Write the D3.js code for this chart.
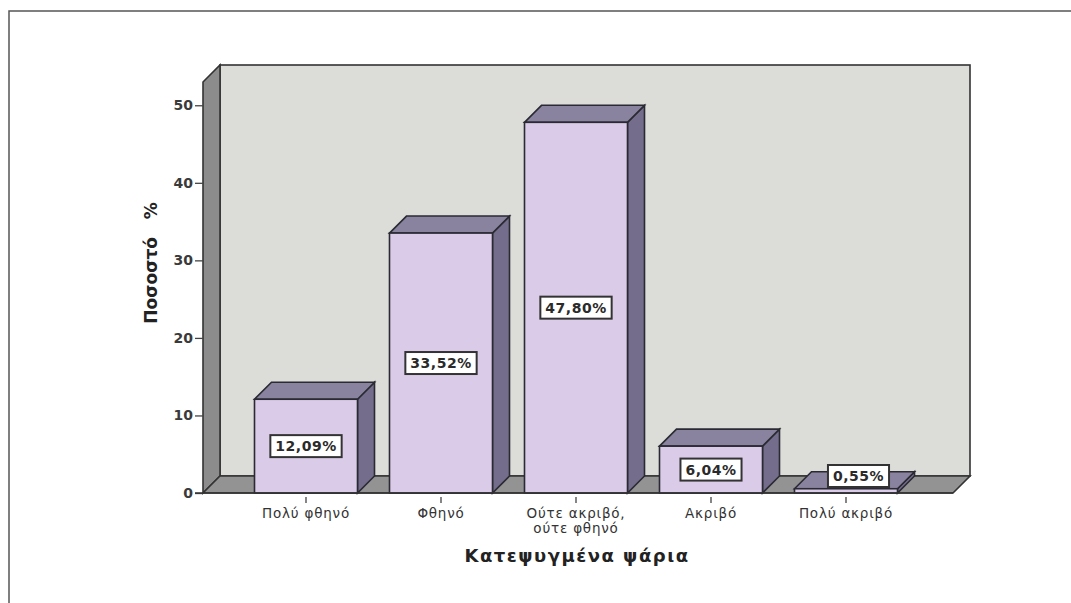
<!DOCTYPE html>
<html><head><meta charset="utf-8">
<script src="https://cdn.jsdelivr.net/npm/d3@7/dist/d3.min.js"></script>
<style>body{margin:0;background:#fff}svg{display:block}</style>
</head><body><svg id="c" width="1071" height="603"></svg>
<script>
const categories = ["Πολύ φθηνό", "Φθηνό", "Ούτε ακριβό, ούτε φθηνό", "Ακριβό", "Πολύ ακριβό"];
const categoryLines = [["Πολύ φθηνό"], ["Φθηνό"], ["Ούτε ακριβό,", "ούτε φθηνό"], ["Ακριβό"], ["Πολύ ακριβό"]];
const values = [12.09, 33.52, 47.80, 6.04, 0.55];
const valueLabels = ["12,09%", "33,52%", "47,80%", "6,04%", "0,55%"];
const yTicks = [0, 10, 20, 30, 40, 50];
const xTitle = "Κατεψυγμένα ψάρια";
const yTitle = "Ποσοστό   %";

const svg = d3.select("#c");
const font = "'DejaVu Sans', Verdana, sans-serif";

// frame
svg.append("path").attr("d", "M9,603 V11 H1071").attr("fill", "none").attr("stroke", "#555").attr("stroke-width", 1.5);

const y = d3.scaleLinear().domain([0, 53]).range([493, 82]);
const x = d3.scalePoint().domain(categories).range([306, 846]);
const bw = 103, dx = 17, dy = -17;
const xL = 203, xR = 953;
const y0 = y(0), yTop = y(53);

// back wall
svg.append("rect").attr("x", xL + dx).attr("y", yTop + dy).attr("width", xR - xL).attr("height", y0 - yTop)
  .attr("fill", "#dcdcd9").attr("stroke", "#333").attr("stroke-width", 1.6);
// left wall
svg.append("path").attr("d", `M${xL},${yTop} L${xL+dx},${yTop+dy} L${xL+dx},${y0+dy} L${xL},${y0} Z`)
  .attr("fill", "#8c8c8c").attr("stroke", "#333").attr("stroke-width", 1.6);
// floor
svg.append("path").attr("d", `M${xL},${y0} L${xL+dx},${y0+dy} L${xR+dx},${y0+dy} L${xR},${y0} Z`)
  .attr("fill", "#939393").attr("stroke", "#333").attr("stroke-width", 1.6);

// y axis
const yAxis = d3.axisLeft(y).tickValues(yTicks).tickSize(8).tickPadding(2);
const ga = svg.append("g").attr("transform", `translate(${xL},0)`).call(yAxis);
ga.select(".domain").remove();
ga.selectAll("line").attr("stroke", "#444").attr("stroke-width", 1.3);
ga.selectAll("text").attr("font-family", font).attr("font-size", 14).attr("font-weight", "bold").attr("fill", "#3a3a3a");

// bars
const bars = svg.append("g");
categories.forEach((c, i) => {
  const cx = x(c), x0 = cx - bw / 2, x1 = cx + bw / 2, yt = y(values[i]);
  const g = bars.append("g");
  g.append("path").attr("d", `M${x1},${yt} L${x1+dx},${yt+dy} L${x1+dx},${y0+dy} L${x1},${y0} Z`)
    .attr("fill", "#756d8c").attr("stroke", "#2a2a33").attr("stroke-width", 1.6);
  g.append("path").attr("d", `M${x0},${yt} L${x0+dx},${yt+dy} L${x1+dx},${yt+dy} L${x1},${yt} Z`)
    .attr("fill", "#8a839f").attr("stroke", "#2a2a33").attr("stroke-width", 1.6);
  g.append("rect").attr("x", x0).attr("y", yt).attr("width", bw).attr("height", y0 - yt)
    .attr("fill", "#dacbe8").attr("stroke", "#2a2a33").attr("stroke-width", 1.6);
});

// front axis line
svg.append("line").attr("x1", xL - 8).attr("x2", xR).attr("y1", y0).attr("y2", y0).attr("stroke", "#333").attr("stroke-width", 1.6);

// value labels
categories.forEach((c, i) => {
  const cx = x(c), yt = y(values[i]);
  let lx = cx, ly = (yt + y0) / 2;
  const bh = 22;
  if (y0 - yt < bh + 4) { lx = cx + dx / 2 + 4; ly = Math.min(ly, y0 + dy); }
  const t = svg.append("text").attr("x", lx).attr("y", ly).attr("text-anchor", "middle").attr("dominant-baseline", "central")
    .attr("font-family", font).attr("font-size", 14).attr("font-weight", "bold").attr("letter-spacing", 0.5)
    .attr("fill", "#2a2a2a").text(valueLabels[i]);
  const bb = t.node().getBBox();
  svg.insert("rect", () => t.node()).attr("x", bb.x - 5).attr("y", ly - bh / 2).attr("width", bb.width + 10).attr("height", bh)
    .attr("fill", "#fff").attr("stroke", "#333").attr("stroke-width", 2);
});

// x ticks and labels
categories.forEach((c, i) => {
  const cx = x(c);
  svg.append("line").attr("x1", cx).attr("x2", cx).attr("y1", y0 + 4).attr("y2", y0 + 10).attr("stroke", "#444").attr("stroke-width", 1.3);
  categoryLines[i].forEach((ln, j) => {
    svg.append("text").attr("x", cx).attr("y", y0 + 25 + j * 15).attr("text-anchor", "middle")
      .attr("font-family", font).attr("font-size", 13.5).attr("letter-spacing", 0.8).attr("fill", "#333").text(ln);
  });
});

// titles
svg.append("text").attr("x", 577).attr("y", 562).attr("text-anchor", "middle").attr("font-family", font)
  .attr("font-weight", "bold").attr("font-size", 18).attr("letter-spacing", 1.5).attr("fill", "#222").text(xTitle);
svg.append("text").attr("transform", "translate(157,263) rotate(-90)").attr("text-anchor", "middle").attr("font-family", font)
  .attr("font-weight", "bold").attr("font-size", 17).attr("fill", "#222").style("white-space", "pre").text(yTitle);
</script></body></html>
